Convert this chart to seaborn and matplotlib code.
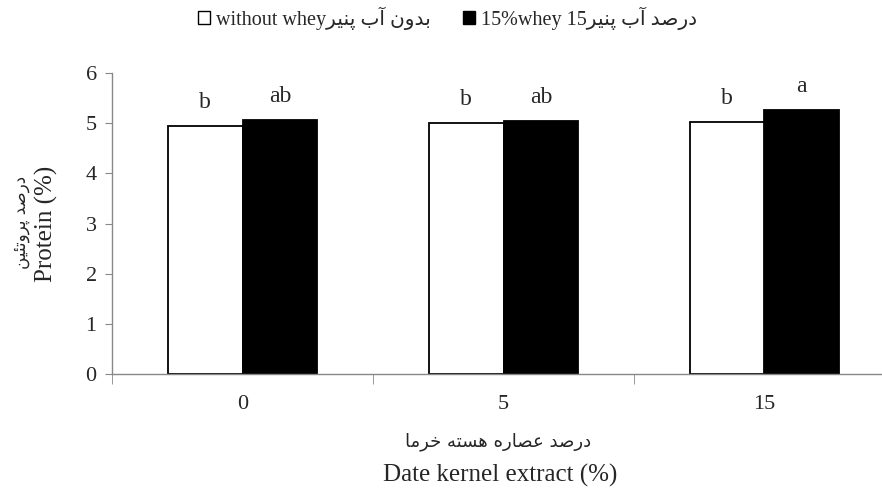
import matplotlib
matplotlib.use('Agg')
import matplotlib.pyplot as plt
import seaborn as sns
import pandas as pd
from matplotlib.patches import Patch

sns.set_style('white')
plt.rcParams['font.family'] = ['Liberation Serif', 'DejaVu Sans']

# data
doses = ['0', '5', '15']
without_whey = [4.94, 5.00, 5.03]
whey_15 = [5.07, 5.05, 5.26]
letters_without = ['b', 'b', 'b']
letters_whey = ['ab', 'ab', 'a']

fa_without = 'بدون آب پنیر'
fa_whey = 'درصد آب پنیر'
fa_ylabel = 'درصد پروتئین'
fa_xlabel = 'درصد عصاره هسته خرما'

# matplotlib has no arabic shaping, so pick presentation forms by hand
FORMS = {
    '\u0627': ('\uFE8D', '\uFE8E', None, None),
    '\u0622': ('\uFE81', '\uFE82', None, None),
    '\u0628': ('\uFE8F', '\uFE90', '\uFE91', '\uFE92'),
    '\u067E': ('\uFB56', '\uFB57', '\uFB58', '\uFB59'),
    '\u062A': ('\uFE95', '\uFE96', '\uFE97', '\uFE98'),
    '\u062E': ('\uFEA5', '\uFEA6', '\uFEA7', '\uFEA8'),
    '\u062F': ('\uFEA9', '\uFEAA', None, None),
    '\u0631': ('\uFEAD', '\uFEAE', None, None),
    '\u0633': ('\uFEB1', '\uFEB2', '\uFEB3', '\uFEB4'),
    '\u0635': ('\uFEB9', '\uFEBA', '\uFEBB', '\uFEBC'),
    '\u0639': ('\uFEC9', '\uFECA', '\uFECB', '\uFECC'),
    '\u0645': ('\uFEE1', '\uFEE2', '\uFEE3', '\uFEE4'),
    '\u0646': ('\uFEE5', '\uFEE6', '\uFEE7', '\uFEE8'),
    '\u0647': ('\uFEE9', '\uFEEA', '\uFEEB', '\uFEEC'),
    '\u0648': ('\uFEED', '\uFEEE', None, None),
    '\u0626': ('\uFE89', '\uFE8A', '\uFE8B', '\uFE8C'),
    '\u06CC': ('\uFBFC', '\uFBFD', '\uFBFE', '\uFBFF'),
    '\u064A': ('\uFEF1', '\uFEF2', '\uFEF3', '\uFEF4'),
}


def shape(s):
    out = []
    for i, c in enumerate(s):
        if c not in FORMS:
            out.append(c)
            continue
        prev = s[i - 1] if i > 0 else ''
        nxt = s[i + 1] if i + 1 < len(s) else ''
        jp = prev in FORMS and FORMS[prev][2] is not None
        jn = FORMS[c][2] is not None and nxt in FORMS
        iso, fin, ini, med = FORMS[c]
        if jp and jn:
            out.append(med)
        elif jp:
            out.append(fin)
        elif jn:
            out.append(ini)
        else:
            out.append(iso)
    return ''.join(out)[::-1]


groups = ['without whey' + shape(fa_without), '15%whey 15' + shape(fa_whey)]

df = pd.DataFrame({
    'dose': doses * 2,
    'group': [groups[0]] * 3 + [groups[1]] * 3,
    'protein': without_whey + whey_15,
})

fig = plt.figure(figsize=(8.82, 4.9), dpi=100)
ax = fig.add_axes([112 / 882, 116 / 490, 783 / 882, 301 / 490])
sns.barplot(data=df, x='dose', y='protein', hue='group', order=doses, hue_order=groups,
            palette=['white', 'black'], edgecolor='black', linewidth=1.3,
            width=0.572, gap=0, errorbar=None, legend=False, ax=ax)

ax.set_ylim(0, 6)
ax.set_xlim(-0.5, 2.5)
ax.set_yticks(range(0, 7))
ax.set_xticks([-0.5, 0.5, 1.5, 2.5], minor=True)
ax.tick_params(axis='y', left=True, length=5, color='#888888', pad=6, labelsize=16)
ax.tick_params(axis='x', which='major', bottom=True, length=0, pad=15, labelsize=16)
ax.tick_params(axis='x', which='minor', bottom=True, length=7, color='#888888', direction='out')
for side in ['top', 'right']:
    ax.spines[side].set_visible(False)
for side in ['left', 'bottom']:
    ax.spines[side].set_color('#888888')
    ax.spines[side].set_linewidth(1)
ax.set_xlabel('')
ax.set_ylabel('')

# significance letters above the bars
for bar, let in zip(ax.patches, letters_without + letters_whey):
    ax.text(bar.get_x() + bar.get_width() / 2, bar.get_height() + 0.47, let,
            ha='center', va='center', fontsize=17)

fig.text(500 / 882, 1 - 475 / 490, 'Date kernel extract (%)', ha='center', va='center', fontsize=18)
fig.text(498 / 882, 1 - 442 / 490, shape(fa_xlabel), ha='center', va='center',
         fontsize=13, family='DejaVu Sans')
fig.text(46 / 882, 1 - 224 / 490, 'Protein (%)', ha='center', va='center', rotation=90, fontsize=18)
fig.text(21 / 882, 1 - 222 / 490, shape(fa_ylabel), ha='center', va='center', rotation=90,
         fontsize=12, family='DejaVu Sans')

handles = [Patch(facecolor='white', edgecolor='black', linewidth=1),
           Patch(facecolor='black', edgecolor='black', linewidth=1)]
fig.legend(handles=handles, labels=groups, loc='center', bbox_to_anchor=(0.507, 1 - 18 / 490),
           ncol=2, frameon=False, fontsize=14.5, handlelength=0.6, handleheight=0.6,
           handletextpad=0.3, columnspacing=1.6)

fig.savefig('out.png', dpi=100)
